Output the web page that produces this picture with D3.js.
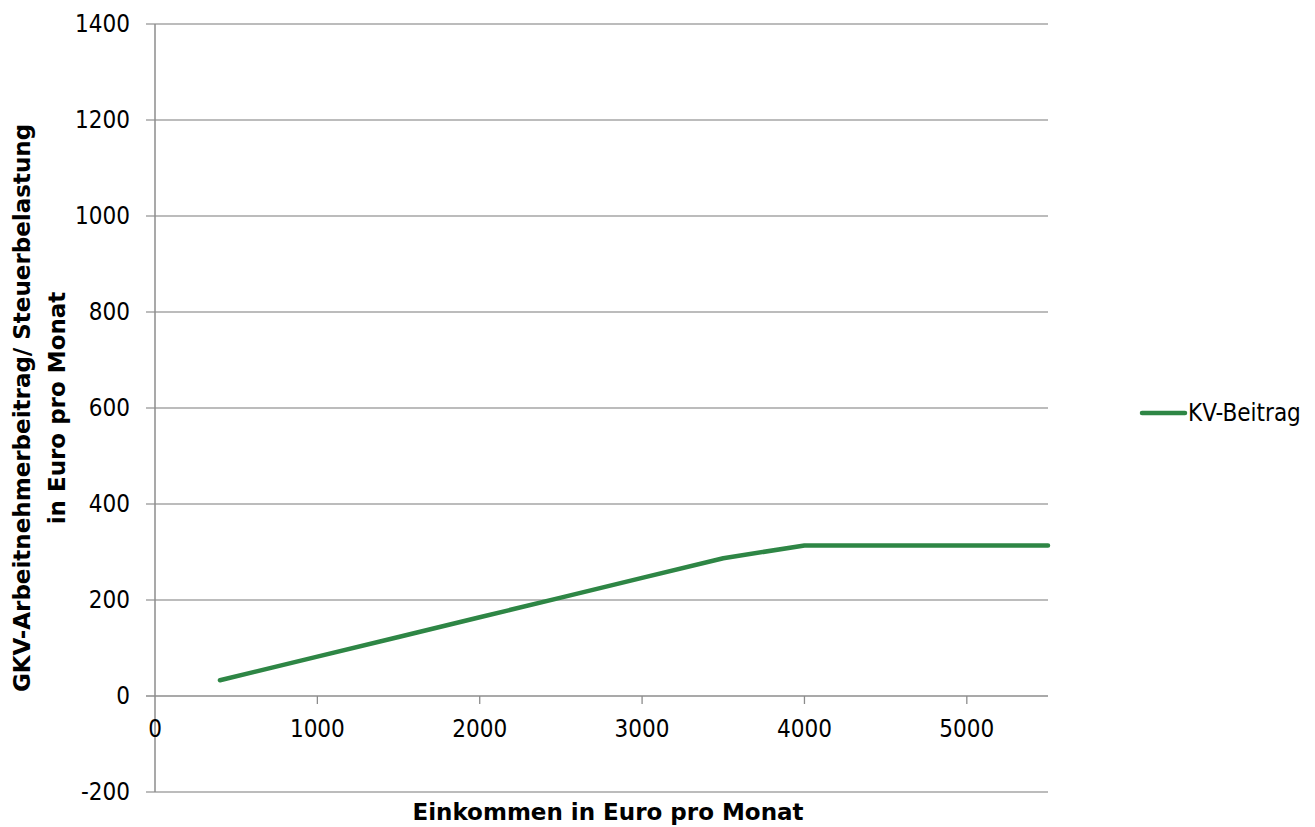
<!DOCTYPE html>
<html>
<head>
<meta charset="utf-8">
<script src="https://cdn.jsdelivr.net/npm/d3@7"></script>
<style>
  body { margin: 0; background: #fff; }
  svg text { font-family: "DejaVu Sans Condensed", "DejaVu Sans", sans-serif; fill: #000; }
  svg text.title { font-family: "DejaVu Sans", sans-serif; font-weight: bold; }
</style>
</head>
<body>
<svg id="chart" width="1315" height="827"></svg>
<script>
// Einkommen (Euro/Monat) und KV-Beitrag (Euro/Monat)
const incomes = [400, 1000, 1500, 2000, 2500, 3000, 3500, 4000, 4500, 5000, 5500];
const kvValues = [32.8, 82, 123, 164, 205, 246, 287, 313.65, 313.65, 313.65, 313.65];
const xTicks = [0, 1000, 2000, 3000, 4000, 5000];
const yTicks = [-200, 0, 200, 400, 600, 800, 1000, 1200, 1400];
const seriesName = "KV-Beitrag";

const margin = { left: 155, top: 24, right: 1048, bottom: 792 };

const svg = d3.select("#chart");

const x = d3.scaleLinear().domain([0, 5500]).range([margin.left, margin.right]);
const y = d3.scaleLinear().domain([-200, 1400]).range([margin.bottom, margin.top]);

// gridlines
svg.append("g")
    .attr("class", "grid")
  .selectAll("line")
  .data(yTicks).enter()
  .append("line")
    .attr("x1", margin.left - 9)
    .attr("x2", margin.right)
    .attr("y1", d => y(d))
    .attr("y2", d => y(d))
    .attr("stroke", d => d === 0 ? "#8c8c8c" : "#a6a6a6")
    .attr("stroke-width", 1.3);

// y axis line
svg.append("line")
    .attr("x1", x(0)).attr("x2", x(0))
    .attr("y1", margin.top).attr("y2", margin.bottom)
    .attr("stroke", "#8c8c8c")
    .attr("stroke-width", 1.5);

// x tick marks on zero line
svg.append("g")
  .selectAll("line")
  .data(xTicks.filter(d => d > 0)).enter()
  .append("line")
    .attr("x1", d => x(d)).attr("x2", d => x(d))
    .attr("y1", y(0)).attr("y2", y(0) + 8)
    .attr("stroke", "#8c8c8c")
    .attr("stroke-width", 1.3);

// y tick labels
svg.append("g")
  .selectAll("text")
  .data(yTicks).enter()
  .append("text")
    .attr("x", margin.left - 25)
    .attr("y", d => y(d))
    .attr("text-anchor", "end")
    .attr("dominant-baseline", "central")
    .style("font-size", "24px")
    .text(d => d);

// x tick labels
svg.append("g")
  .selectAll("text")
  .data(xTicks).enter()
  .append("text")
    .attr("x", d => x(d))
    .attr("y", y(0) + 33)
    .attr("text-anchor", "middle")
    .attr("dominant-baseline", "central")
    .style("font-size", "24px")
    .text(d => d);

// the line
const line = d3.line()
    .x((d, i) => x(incomes[i]))
    .y(d => y(d));

svg.append("path")
    .datum(kvValues)
    .attr("fill", "none")
    .attr("stroke", "#2e8645")
    .attr("stroke-width", 4.5)
    .attr("stroke-linejoin", "round")
    .attr("stroke-linecap", "round")
    .attr("d", line);

// axis titles
svg.append("text")
    .attr("class", "title")
    .attr("x", 608)
    .attr("y", 812)
    .attr("text-anchor", "middle")
    .attr("dominant-baseline", "central")
    .style("font-size", "23px")
    .text("Einkommen in Euro pro Monat");

const yTitle = svg.append("text")
    .attr("class", "title")
    .attr("transform", "translate(0," + 408 + ") rotate(-90)")
    .attr("text-anchor", "middle")
    .style("font-size", "23px");
yTitle.append("tspan").attr("x", 0).attr("y", 30).text("GKV-Arbeitnehmerbeitrag/ Steuerbelastung");
yTitle.append("tspan").attr("x", 0).attr("y", 65).text("in Euro pro Monat");

// legend
const legend = svg.append("g").attr("transform", "translate(1142,413)");
legend.append("line")
    .attr("x1", 0).attr("x2", 43)
    .attr("stroke", "#2e8645")
    .attr("stroke-width", 4.5)
    .attr("stroke-linecap", "round");
legend.append("text")
    .attr("x", 46)
    .attr("y", 0)
    .attr("dominant-baseline", "central")
    .style("font-size", "24px")
    .text(seriesName);
</script>
</body>
</html>
